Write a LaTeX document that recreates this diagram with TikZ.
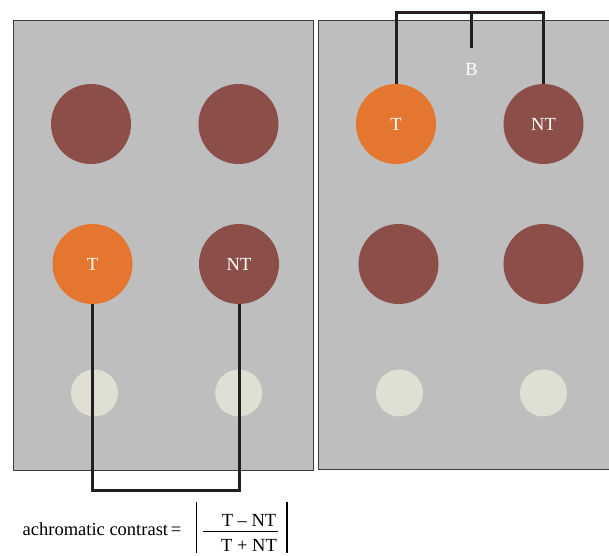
\documentclass[tikz,border=0pt]{standalone}
\usepackage{fontspec}
\setmainfont{Liberation Serif}
\definecolor{panelgray}{HTML}{BEBEBE}
\definecolor{paneledge}{HTML}{3C3C3C}
\definecolor{spotbrown}{HTML}{8C4E49}
\definecolor{spotorange}{HTML}{E4762F}
\definecolor{spotpale}{HTML}{DFDFD3}
\definecolor{wirecol}{HTML}{231F20}
\tikzset{
  panel/.style={fill=panelgray,draw=paneledge,line width=1pt},
  spot/.style={circle,minimum size=80pt,inner sep=0pt,fill=spotbrown,text=white,font=\fontsize{18.5}{22}\selectfont},
  targetspot/.style={spot,fill=spotorange},
  dimspot/.style={circle,minimum size=47pt,inner sep=0pt,fill=spotpale},
  wire/.style={draw=wirecol,line width=3pt,line join=miter},
  eqtext/.style={inner sep=0pt,font=\fontsize{18.5}{22}\selectfont}
}
\begin{document}
\begin{tikzpicture}[x=1pt,y=-1pt]
	\useasboundingbox (0,0) rectangle (609,555);
	\clip (0,0) rectangle (609,555);
	\draw[panel] (13.5,20.5) rectangle (313,470);
	\draw[panel] (318.5,20.5) rectangle (625,469.5);
	\node[spot] (lA) at (91,124) {};
	\node[spot] (lB) at (238.5,124) {};
	\node[targetspot] (lT) at (92.5,264) {T};
	\node[spot] (lNT) at (239,264) {NT};
	\node[dimspot] (lC) at (94.5,393) {};
	\node[dimspot] (lD) at (238.7,393) {};
	\node[targetspot] (rT) at (396,124) {T};
	\node[spot] (rNT) at (543.5,124) {NT};
	\node[spot] (rA) at (398.5,264) {};
	\node[spot] (rB) at (543.5,264) {};
	\node[dimspot] (rC) at (399.5,393) {};
	\node[dimspot] (rD) at (543.5,393) {};
	\node[eqtext,text=white,anchor=base] (bg) at (471.5,75) {B};
	\coordinate (lowwire) at (0,490);
	\coordinate (highwire) at (0,12);
	\coordinate (bstub) at (471.5,47.5);
	\draw[wire] (lT.south) -- (lT.south |- lowwire) -- (lNT.south |- lowwire) -- (lNT.south);
	\draw[wire] (rT.north) -- (rT.north |- highwire) -- (rNT.north |- highwire) -- (rNT.north);
	\draw[wire] (bstub |- highwire) -- (bstub);
	\node[eqtext,anchor=base west] (achro) at (22.5,535) {achromatic contrast};
	\node[eqtext,anchor=base] (equals) at (176,535) {=};
	\node[eqtext,anchor=base] (num) at (249,526) {T – NT};
	\node[eqtext,anchor=base] (den) at (249,551) {T + NT};
	\draw[line width=1pt] (203,531) -- (278,531);
	\draw[line width=1.3pt] (196.5,502) -- (196.5,553);
	\draw[line width=1.3pt] (287,502) -- (287,553);
\end{tikzpicture}
\end{document}
